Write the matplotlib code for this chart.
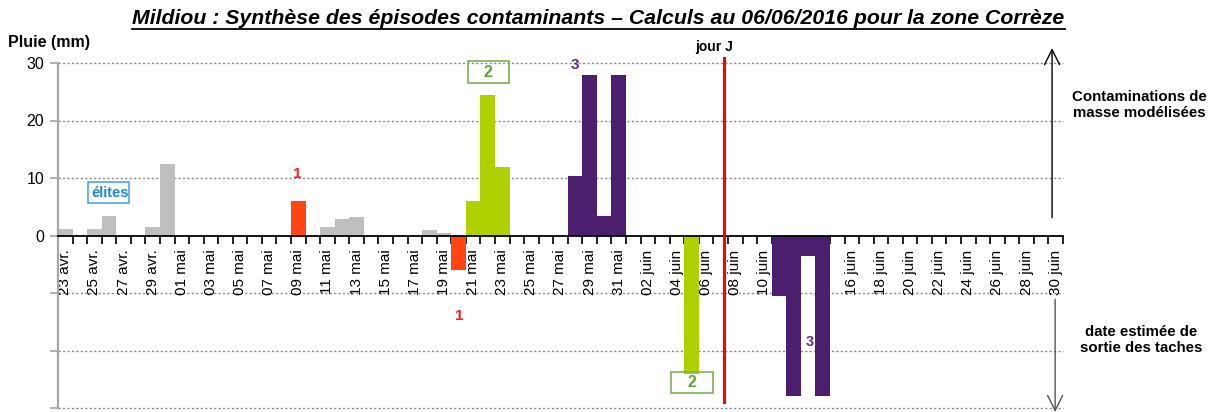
import matplotlib
matplotlib.use("Agg")
import matplotlib.pyplot as plt
from matplotlib.lines import Line2D
from matplotlib.patches import Rectangle

plt.rcParams['font.family'] = ['Liberation Sans', 'DejaVu Sans']

# categories : un jour par barre, du 23 avril au 30 juin
mois = [("avr.", 23, 30), ("mai", 1, 31), ("juin", 1, 30)]
jours = []
for nom, d0, d1 in mois:
    for d in range(d0, d1 + 1):
        jours.append("%02d %s" % (d, nom))

# pluies sans contamination (gris)
gris_jours = ["23 avr.", "25 avr.", "26 avr.", "29 avr.", "30 avr.",
              "11 mai", "12 mai", "13 mai", "18 mai", "19 mai"]
gris_mm = [1.2, 1.2, 3.4, 1.5, 12.4, 1.5, 2.9, 3.3, 1.0, 0.5]

# episode 1 (rouge)
ep1_jours = ["09 mai"]
ep1_mm = [6.0]
ep1_sortie_jours = ["20 mai"]
ep1_sortie = [-6.0]

# episode 2 (vert)
ep2_jours = ["21 mai", "22 mai", "23 mai"]
ep2_mm = [6.0, 24.4, 12.0]
ep2_sortie_jours = ["05 juin"]
ep2_sortie = [-24.0]

# episode 3 (violet)
ep3_jours = ["28 mai", "29 mai", "30 mai", "31 mai"]
ep3_mm = [10.4, 27.9, 3.4, 27.9]
ep3_sortie_jours = ["11 juin", "12 juin", "13 juin", "14 juin"]
ep3_sortie = [-10.5, -27.9, -3.6, -27.9]

jour_j = 45.23  # position de la ligne "jour J"

c_gris = "#bfbfbf"
c_rouge = "#ff4513"
c_vert = "#b0d000"
c_violet = "#4b1f6e"


def idx(liste):
    return [jours.index(j) for j in liste]


fig = plt.figure(figsize=(12.27, 4.12), dpi=100)
ax = fig.add_axes([58 / 1227, 4 / 412, (1063 - 58) / 1227, (408 - 63) / 412])

series = [(gris_jours, gris_mm, c_gris), (ep1_jours, ep1_mm, c_rouge),
          (ep1_sortie_jours, ep1_sortie, c_rouge), (ep2_jours, ep2_mm, c_vert),
          (ep2_sortie_jours, ep2_sortie, c_vert), (ep3_jours, ep3_mm, c_violet),
          (ep3_sortie_jours, ep3_sortie, c_violet)]
for js, vals, col in series:
    ax.bar(idx(js), vals, width=1.0, color=col, zorder=2)

ax.set_xlim(-0.5, len(jours) - 0.5)
ax.set_ylim(-30, 30)

# grille pointillee
for y in [30, 20, 10, -10, -20, -30]:
    ax.axhline(y, color="#8c8c8c", lw=1, ls=(0, (1.6, 1.6)), zorder=1,
               clip_on=False)

ax.set_yticks([-30, -20, -10, 0, 10, 20, 30])
ax.set_yticklabels(["", "", "", "0", "10", "20", "30"], fontsize=11.5)
ax.tick_params(axis="y", length=6, width=1.2, color="#a6a6a6", pad=4)

ax.spines["top"].set_visible(False)
ax.spines["right"].set_visible(False)
ax.spines["left"].set_color("#a6a6a6")
ax.spines["left"].set_linewidth(1.6)
ax.spines["bottom"].set_position(("data", 0))
ax.spines["bottom"].set_color("black")
ax.spines["bottom"].set_linewidth(1.3)
ax.spines["bottom"].set_zorder(3)

ax.set_xticks(range(0, len(jours), 2))
ax.set_xticklabels(jours[::2], rotation=90, fontsize=11)
ax.set_xticks([k - 0.5 for k in range(len(jours) + 1)], minor=True)
ax.tick_params(axis="x", which="major", length=0, pad=10)
ax.tick_params(axis="x", which="minor", length=6, width=1.2, color="black")

# ligne jour J
ax.plot([jour_j, jour_j], [30.8, -28.9], color="#ff0000", lw=2.2,
        clip_on=False, zorder=4)
ax.text(jour_j - 0.7, 32.8, "jour J", ha="center", va="center",
        fontsize=10, fontweight="bold")

# etiquettes des episodes
ax.text(3.08, 7.45, "élites", ha="center", va="center", fontsize=10.5,
        fontweight="bold", color="#1e88d4", zorder=5)
ax.add_patch(Rectangle((1.53, 5.6), 2.85, 3.65, fill=False,
                       ec="#4aa8e6", lw=1.2, zorder=5))
ax.text(15.96, 10.75, "1", ha="center", va="center", fontsize=11,
        fontweight="bold", color="#ff1a1a")
ax.text(27.05, -14.0, "1", ha="center", va="center", fontsize=11,
        fontweight="bold", color="#ff1a1a")
ax.text(29.05, 28.4, "2", ha="center", va="center", fontsize=11.5,
        fontweight="bold", color="#5fa330", zorder=5)
ax.add_patch(Rectangle((27.65, 26.5), 2.82, 3.8, fill=False,
                       ec="#7ab450", lw=1.2, clip_on=False, zorder=5))
ax.text(43.03, -25.6, "2", ha="center", va="center", fontsize=11.5,
        fontweight="bold", color="#5fa330", zorder=5)
ax.add_patch(Rectangle((41.62, -27.4), 2.82, 3.65, fill=False,
                       ec="#7ab450", lw=1.2, zorder=5))
ax.text(34.97, 29.6, "3", ha="center", va="center", fontsize=11,
        fontweight="bold", color="#5b2c83", zorder=5)
ax.text(51.1, -18.5, "3", ha="center", va="center", fontsize=10.5,
        fontweight="bold", color="#5b2c83", zorder=5)

# fleches a droite
ax.annotate("", xy=(67.75, 32.6), xytext=(67.75, 3.1), annotation_clip=False,
            arrowprops=dict(arrowstyle="->,head_length=0.6,head_width=0.3",
                            mutation_scale=18, lw=1, color="black",
                            shrinkA=0, shrinkB=0))
ax.annotate("", xy=(67.96, -30.7), xytext=(67.96, -11.1), annotation_clip=False,
            arrowprops=dict(arrowstyle="->,head_length=0.6,head_width=0.3",
                            mutation_scale=18, lw=1, color="#555555",
                            shrinkA=0, shrinkB=0))

fig.text(1139 / 1227, 1 - 105 / 412, "Contaminations de\nmasse modélisées",
         ha="center", va="center", fontsize=10.8, fontweight="bold",
         linespacing=1.1)
fig.text(1141 / 1227, 1 - 340 / 412, "date estimée de\nsortie des taches",
         ha="center", va="center", fontsize=10.8, fontweight="bold",
         linespacing=1.1)
fig.text(8 / 1227, 1 - 42 / 412, "Pluie (mm)", ha="left", va="center",
         fontsize=11.5, fontweight="bold")

titre = fig.text(598.5 / 1227, 1 - 19 / 412,
                 "Mildiou : Synthèse des épisodes contaminants – Calculs au "
                 "06/06/2016 pour la zone Corrèze",
                 ha="center", va="center", fontsize=15.3, fontweight="bold",
                 fontstyle="italic")

# soulignement du titre
fig.canvas.draw()
bb = titre.get_window_extent().transformed(fig.transFigure.inverted())
fig.add_artist(Line2D([bb.x0, bb.x1], [1 - 29 / 412, 1 - 29 / 412],
                      color="black", lw=1.3, transform=fig.transFigure))

fig.savefig("out.png", dpi=100)
